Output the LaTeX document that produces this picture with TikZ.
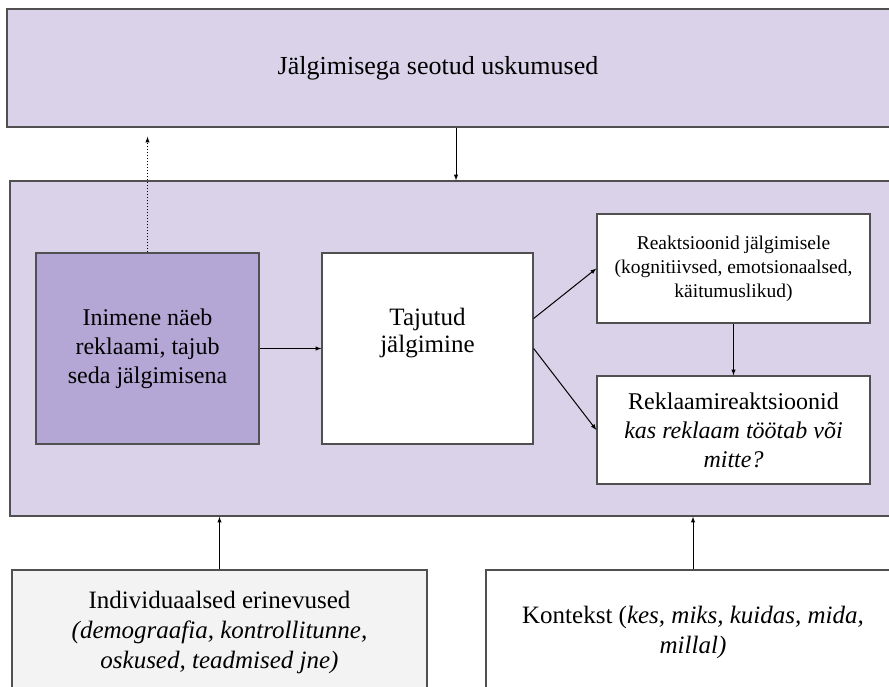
\documentclass[tikz,border=0pt]{standalone}
\usepackage{fontspec}
\setmainfont{Liberation Serif}
\usepackage{tikz}
\usetikzlibrary{positioning}
\usetikzlibrary{arrows}
\definecolor{lavender}{HTML}{D9D2E9}
\definecolor{purplebox}{HTML}{B4A7D6}
\definecolor{paleGray}{HTML}{F3F3F3}
\definecolor{edgeGray}{HTML}{505050}
\tikzset{box/.style={shape=rectangle, draw=edgeGray, line width=1.3pt, align=center, inner sep=0pt}}
\tikzset{link/.style={line width=1pt, black}}

\begin{document}
\begin{tikzpicture}[x=1pt,y=-1pt,>=latex]
		\useasboundingbox (0,0) rectangle (889,686);
		\node[box, fill=lavender, minimum width=953pt, minimum height=118pt, label={[font=\fontsize{26}{31}\selectfont, xshift=-45.5pt]center:Jälgimisega seotud uskumused}] (beliefs) at (483.5,68) {};
		\node[box, fill=lavender, minimum width=950pt, minimum height=335pt] (frame) at (485,348.5) {};
		\node[box, fill=purplebox, minimum width=223pt, minimum height=191pt, font=\fontsize{24}{29}\selectfont] (A) at (147.5,348.5) {Inimene näeb\\reklaami, tajub\\seda jälgimisena};
		\node[box, fill=white, minimum width=211pt, minimum height=191pt, label={[font=\fontsize{25}{27}\selectfont, align=center, yshift=15pt]center:Tajutud\\jälgimine}] (B) at (427.5,348.5) {};
		\node[box, fill=white, minimum width=273pt, minimum height=109pt, font=\fontsize{19.5}{24}\selectfont] (C) at (733.5,268.5) {Reaktsioonid jälgimisele\\(kognitiivsed, emotsionaalsed,\\käitumuslikud)};
		\node[box, fill=white, minimum width=273pt, minimum height=108pt, font=\fontsize{24}{29}\selectfont] (D) at (733.5,430) {Reklaamireaktsioonid\\\textit{kas reklaam töötab või}\\\textit{mitte?}};
		\node[box, fill=paleGray, minimum width=415pt, minimum height=124pt, font=\fontsize{25}{30}\selectfont] (E) at (219.5,632) {Individuaalsed erinevused\\\textit{(demograafia, kontrollitunne,}\\\textit{oskused, teadmised jne)}};
		\node[box, fill=white, minimum width=474pt, minimum height=124pt, label={[font=\fontsize{25}{30}\selectfont, align=center, xshift=-30pt]center:Kontekst (\textit{kes, miks, kuidas, mida,}\\\textit{millal)}}] (F) at (723,632) {};
		\path [->, link] ([xshift=-27.5pt]beliefs.south) edge ([xshift=-27.5pt]beliefs.south |- frame.north);
		\path [->, link, dotted] (A.north) edge ([yshift=-9pt]A.north |- beliefs.south);
		\path [->, link] (A) edge (B);
		\path [->, link] ([yshift=30pt]B.east) edge (C.west);
		\path [->, link] (B.east) edge (D.west);
		\path [->, link] (C) edge (D);
		\path [->, link] (E.north) edge (E.north |- frame.south);
		\path [->, link] ([xshift=-30pt]F.north) edge ([xshift=-30pt]F.north |- frame.south);
	\end{tikzpicture}
\end{document}
